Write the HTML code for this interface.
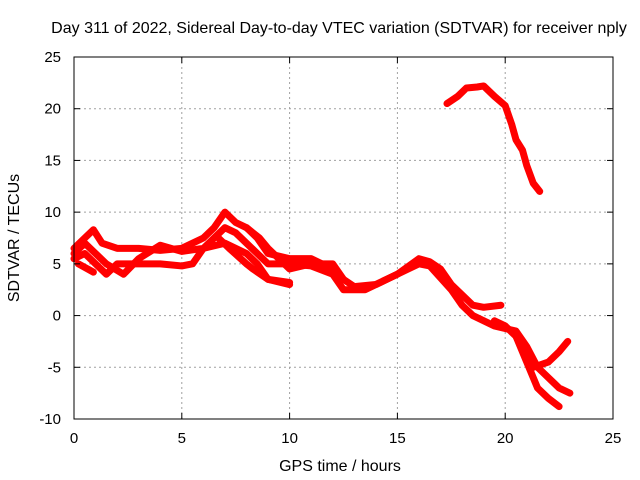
<!DOCTYPE html>
<html><head><meta charset="utf-8"><style>
body{margin:0;background:#fff;}
svg{display:block;font-family:"Liberation Sans",sans-serif;}
</style></head><body>
<svg id="c" width="640" height="480">
<text x="339" y="33" font-size="16" text-anchor="middle">Day 311 of 2022, Sidereal Day-to-day VTEC variation (SDTVAR) for receiver nply</text>
<text x="340" y="471" font-size="16" text-anchor="middle">GPS time / hours</text>
<text transform="translate(19,238) rotate(-90)" font-size="16" text-anchor="middle">SDTVAR / TECUs</text>
<g id="grid"></g>
<g id="marks"></g>
<rect x="74" y="57" width="539" height="362" fill="none" stroke="#000" stroke-width="1"/>
<g id="ticks"></g>
</svg>
<script>
const xTicks=[0,5,10,15,20,25];
const yTicks=[-10,-5,0,5,10,15,20,25];
const track1=[[17.3,20.5],[17.8,21.2],[18.2,22],[18.7,22.1],[19,22.2],[19.5,21.2],[20,20.3],[20.3,18.5],[20.5,17],[20.8,16],[21,14.5],[21.3,12.8],[21.6,12]];
const track2=[[0,6.5],[0.5,7.5],[0.9,8.3],[1.3,7],[2,6.5],[3,6.5],[4,6.3],[5,6.5],[6,7.5],[6.5,8.5],[7,10],[7.5,9],[8,8.5],[8.5,7.5],[9,6],[10,5.5],[11,5.5],[12,4.5],[12.5,3.5],[13,2.8],[14,3],[15,4],[16,5.5],[16.5,5.2],[17,4.5],[17.5,3],[18,2],[18.5,1],[19,0.8],[19.8,1]];
const track3=[[0,6],[0.5,7],[1,6],[1.5,5],[2.3,4],[3,5.5],[4,6.8],[5,6.2],[6,6.5],[7,8.5],[7.5,8],[8,7],[8.5,6],[9,5],[10,5],[11,4.8],[12,4],[12.5,2.5],[13.5,2.5],[14.5,3.5],[15.5,4.5],[16,5],[16.5,4.8],[17.5,2.5],[18,1],[18.5,0],[19.5,-1],[20.5,-1.5],[21,-3],[21.5,-5],[22,-6],[22.5,-7],[23,-7.5]];
const track4=[[0,5.5],[0.5,6],[1,5],[1.5,4],[2,5],[3,5],[4,5],[5,4.8],[5.5,5],[6,6.5],[7,7],[8,6],[8.5,5],[9,3.5],[10,3]];
const track5=[[0.2,5],[0.9,4.2]];
const track6=[[6.7,7.5],[7.2,6.5],[8,5],[8.3,4.5],[9,3.5],[10,3.2]];
const track7=[[8,8.5],[8.6,7.5],[9,6.5],[10,4.5],[11,5],[12,5],[12.5,3.5]];
const track8=[[19.5,-0.5],[20,-1],[20.5,-2],[21,-4],[21.3,-5],[22,-4.5],[22.5,-3.5],[22.9,-2.5]];
const track9=[[20.5,-2],[21,-4.5],[21.5,-7],[22,-8],[22.5,-8.8]];
const tracks=[track1,track2,track3,track4,track5,track6,track7,track8,track9];
const X0=74,X1=613,Y0=419,Y1=57;
const sx=h=>X0+(h-0)/25*(X1-X0);
const sy=v=>Y0-(v+10)/35*(Y0-Y1);
const NS='http://www.w3.org/2000/svg';
const grid=document.getElementById('grid'),ticks=document.getElementById('ticks'),marks=document.getElementById('marks');
function mk(t,a,p){const e=document.createElementNS(NS,t);for(const k in a)e.setAttribute(k,a[k]);p.appendChild(e);return e;}
xTicks.forEach(t=>{const x=sx(t);
 if(t>0&&t<25){const g=mk('line',{x1:x,x2:x,y1:Y1,y2:Y0,stroke:'#a0a0a0','stroke-dasharray':'2,3'},grid);
 
 }
 mk('line',{x1:x,x2:x,y1:Y0,y2:Y0-6,stroke:'#000'},ticks);
 mk('line',{x1:x,x2:x,y1:Y1,y2:Y1+6,stroke:'#000'},ticks);
 const l=mk('text',{x:x,y:Y0+24,'font-size':15,'text-anchor':'middle'},ticks);l.textContent=t;
 
 
});
yTicks.forEach(t=>{const y=sy(t);
 if(t>-10&&t<25){const g=mk('line',{x1:X0,x2:X1,y1:y,y2:y,stroke:'#a0a0a0','stroke-dasharray':'2,3'},grid);
 
 }
 mk('line',{x1:X0,x2:X0+6,y1:y,y2:y,stroke:'#000'},ticks);
 mk('line',{x1:X1,x2:X1-6,y1:y,y2:y,stroke:'#000'},ticks);
 const l=mk('text',{x:X0-13,y:y+5,'font-size':15,'text-anchor':'end'},ticks);l.textContent=t;
 
 
});
tracks.forEach((tr,i)=>{
 const p=mk('polyline',{points:tr.map(d=>sx(d[0])+','+sy(d[1])).join(' '),fill:'none',stroke:'#ff0000','stroke-width':7,'stroke-linejoin':'round','stroke-linecap':'round'},marks);
 
 
});
</script>
</body></html>
